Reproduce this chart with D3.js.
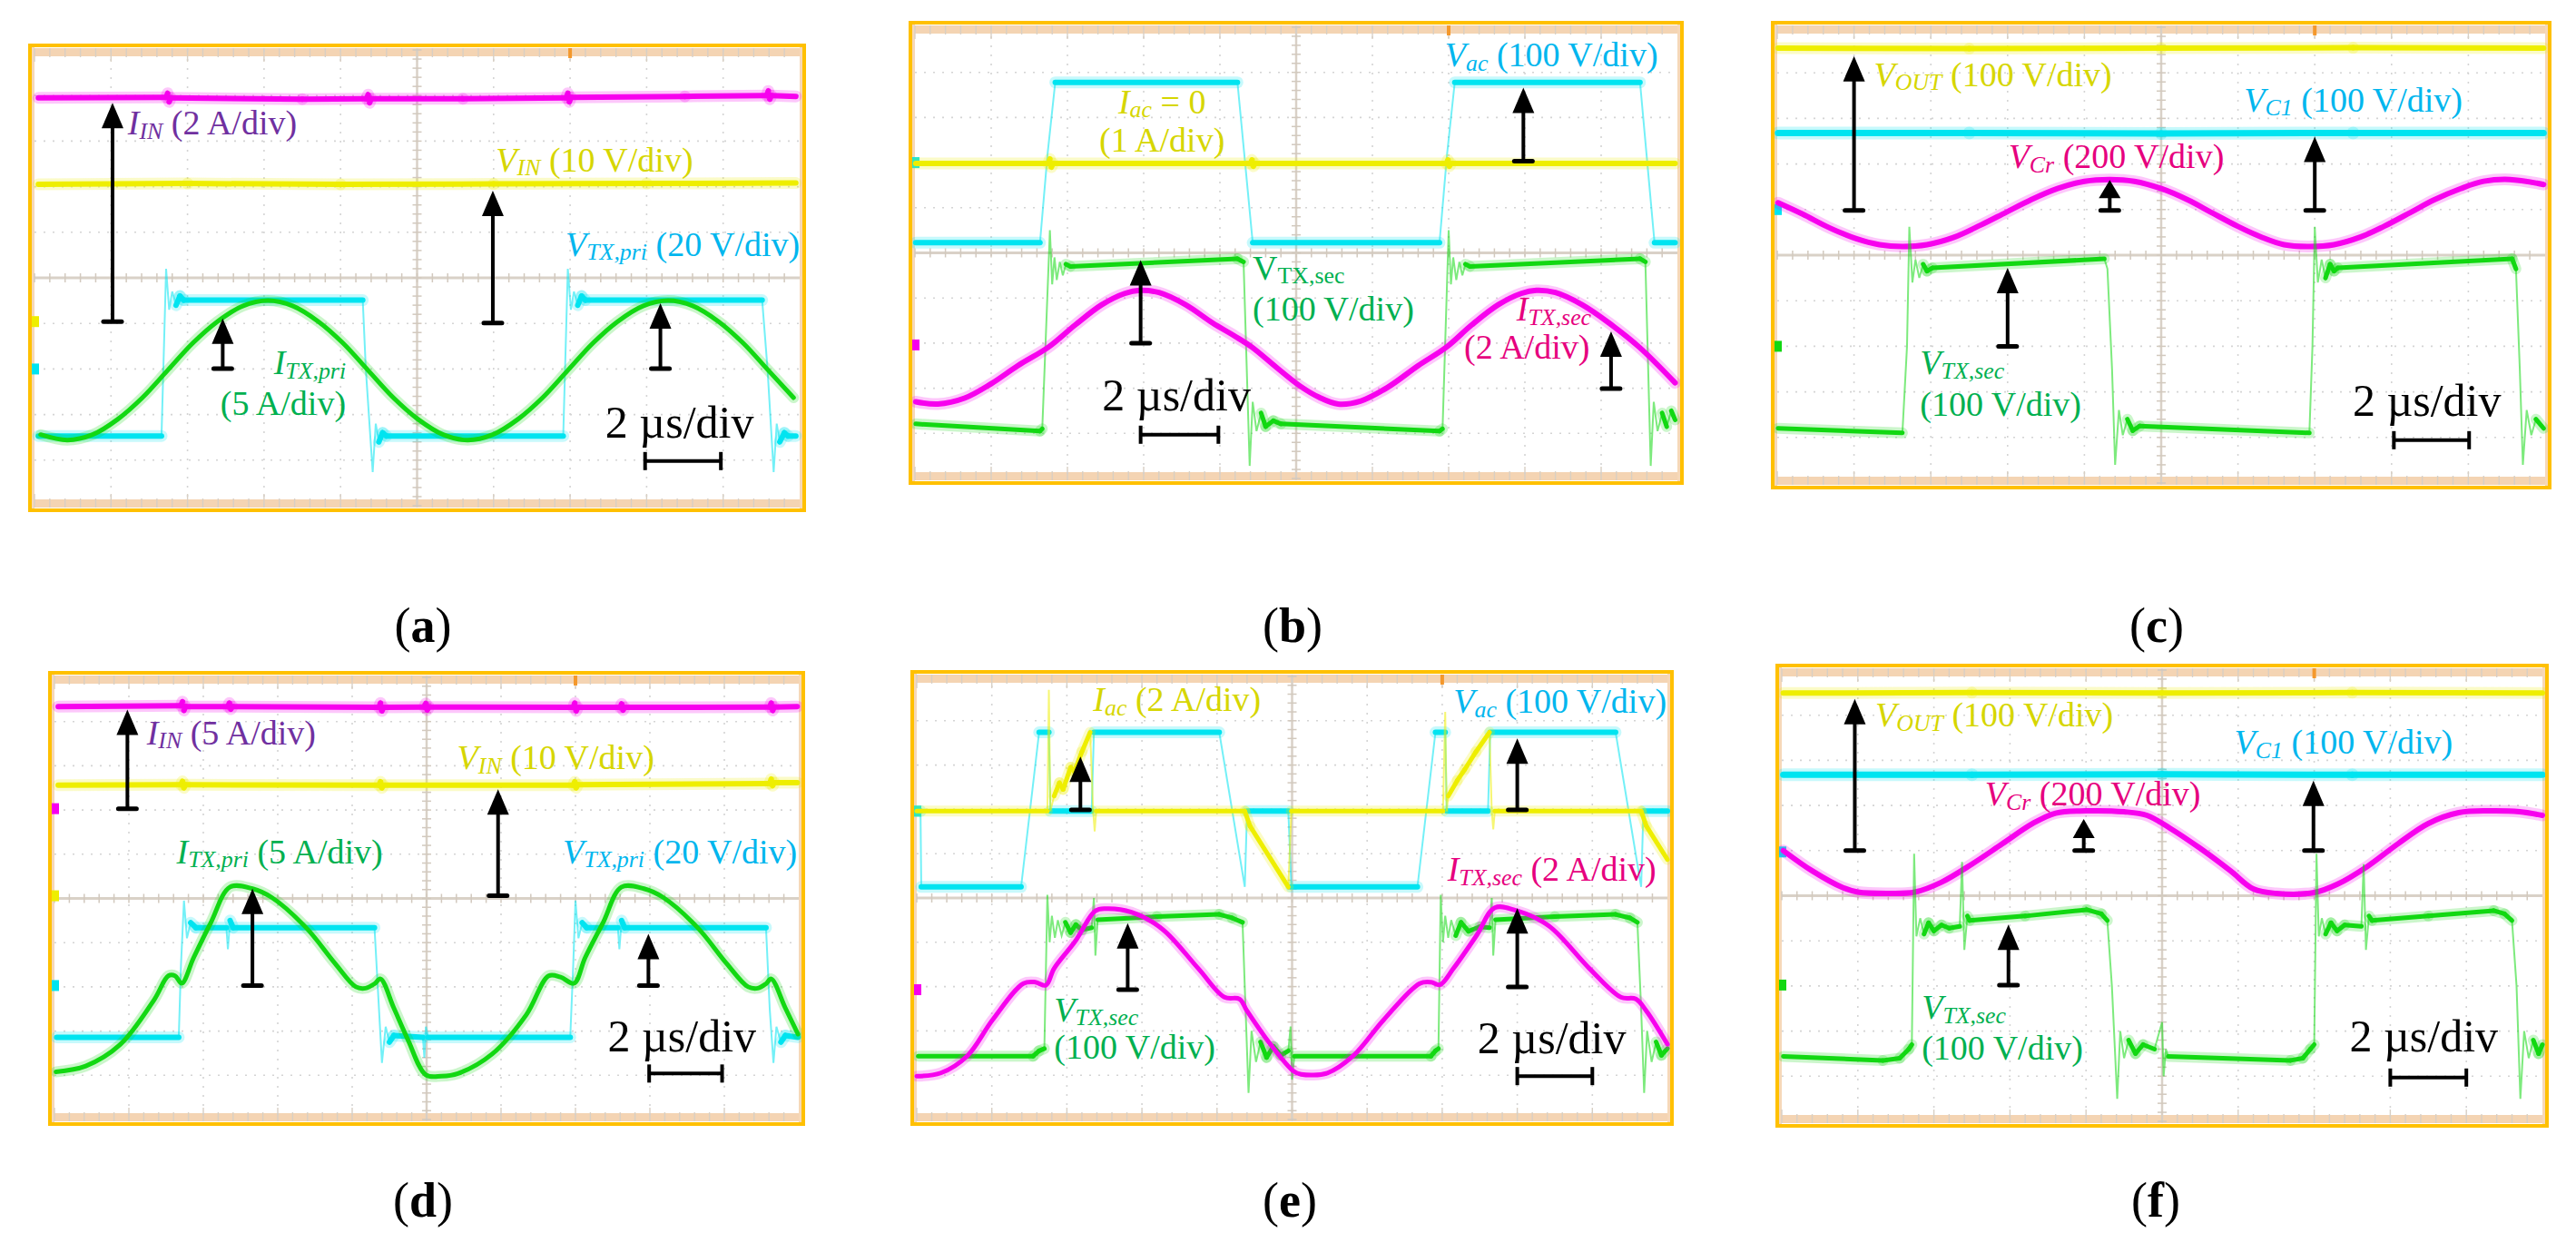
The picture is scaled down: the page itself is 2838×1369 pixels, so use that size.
<!DOCTYPE html>
<html><head><meta charset="utf-8">
<script src="https://cdn.jsdelivr.net/npm/d3@7"></script>
<style>html,body{margin:0;padding:0;background:#fff;} svg{display:block;} text{white-space:pre;}</style>
</head><body>
<svg id="fig" width="2838" height="1369"></svg>
<script>
// ================= DATA (t in divisions 0..10, v in divisions -5..5) =================
const panelLetters = ["a","b","c","d","e","f"];
const timeBase = "2 µs/div";

// ---- (a) ----
const a_IIN = [[0.05,3.95],[1.72,3.96],[1.74,4.05],[1.76,3.86],[1.78,3.95],[3.5,3.92],[4.34,3.93],[4.36,4.02],[4.38,3.84],[4.40,3.93],[5.6,3.93],[6.95,3.95],[6.97,4.05],[6.99,3.86],[7.01,3.96],[8.5,3.98],[9.57,4.0],[9.59,4.1],[9.61,3.92],[9.63,4.0],[9.95,3.98]];
const a_VIN = [[0.05,2.05],[2.0,2.07],[4.0,2.05],[6.0,2.06],[8.0,2.07],[9.95,2.08]];
const a_VTXpri = [[0.05,-3.47],[1.66,-3.47],[1.72,0.2],[1.76,-0.7],[1.8,-0.3],[1.85,-0.6],[1.9,-0.4],[1.95,-0.49],[4.29,-0.49],[4.33,-2.0],[4.42,-4.26],[4.46,-3.2],[4.5,-3.6],[4.55,-3.4],[4.6,-3.47],[6.91,-3.47],[6.97,0.2],[7.01,-0.7],[7.05,-0.3],[7.1,-0.6],[7.15,-0.4],[7.2,-0.49],[9.51,-0.49],[9.58,-2.0],[9.66,-4.26],[9.7,-3.2],[9.74,-3.6],[9.8,-3.4],[9.85,-3.47],[9.95,-3.47]];
const a_ITXpri = [[0.08,-3.44],[0.43,-3.56],[0.76,-3.44],[1.09,-3.1],[1.41,-2.63],[1.74,-2.03],[2.07,-1.43],[2.39,-0.96],[2.72,-0.62],[3.05,-0.5],[3.38,-0.62],[3.71,-0.96],[4.03,-1.43],[4.36,-2.03],[4.69,-2.63],[5.01,-3.1],[5.34,-3.44],[5.66,-3.56],[5.99,-3.44],[6.32,-3.1],[6.64,-2.63],[6.97,-2.03],[7.3,-1.43],[7.62,-0.96],[7.95,-0.62],[8.28,-0.5],[8.61,-0.62],[8.94,-0.96],[9.26,-1.43],[9.59,-2.03],[9.92,-2.63]];
const a_arrows = [[1.02,-0.96,3.84],[2.46,-1.99,-0.89],[5.99,-0.99,1.91],[8.18,-1.99,-0.56]];
const a_markers = [["y",-0.96],["c",-2.0]];

// ---- (b) ----
const b_Vac = [[0.01,0.225],[1.64,0.225],[1.74,2.2],[1.84,3.78],[4.23,3.78],[4.43,0.225],[6.88,0.225],[6.98,2.2],[7.08,3.78],[9.51,3.78],[9.70,0.225],[9.97,0.225]];
const b_Iac = [[0.01,1.98],[1.75,1.98],[1.77,2.08],[1.79,1.9],[1.81,1.98],[4.4,1.98],[4.42,2.06],[4.44,1.92],[4.46,1.98],[6.97,1.98],[6.99,2.06],[7.01,1.92],[7.03,1.98],[9.97,1.98]];
const b_VTXsec = [[0.01,-3.79],[1.64,-3.95],[1.67,-3.9],[1.77,0.5],[1.8,-0.7],[1.83,-0.1],[1.86,-0.6],[1.9,-0.2],[1.94,-0.5],[1.98,-0.25],[2.04,-0.3],[4.23,-0.13],[4.31,-0.2],[4.39,-4.72],[4.43,-3.3],[4.48,-3.95],[4.54,-3.55],[4.6,-3.85],[4.7,-3.72],[4.8,-3.79],[6.88,-3.95],[6.92,-3.9],[7.0,0.5],[7.03,-0.7],[7.06,-0.1],[7.1,-0.6],[7.14,-0.2],[7.18,-0.5],[7.22,-0.25],[7.28,-0.3],[9.51,-0.13],[9.58,-0.2],[9.65,-4.72],[9.69,-3.3],[9.74,-3.95],[9.8,-3.55],[9.86,-3.85],[9.92,-3.5],[9.97,-3.7]];
const b_ITXsec = [[0.01,-3.3],[0.3,-3.35],[0.65,-3.22],[1.0,-2.9],[1.35,-2.5],[1.75,-2.09],[2.1,-1.6],[2.45,-1.15],[2.75,-0.9],[2.95,-0.83],[3.2,-0.88],[3.55,-1.15],[3.9,-1.55],[4.2,-1.85],[4.42,-2.09],[4.75,-2.55],[5.05,-2.95],[5.3,-3.2],[5.55,-3.35],[5.85,-3.28],[6.2,-2.98],[6.6,-2.5],[6.97,-2.09],[7.3,-1.6],[7.65,-1.15],[7.95,-0.9],[8.15,-0.83],[8.4,-0.88],[8.75,-1.15],[9.1,-1.55],[9.5,-2.09],[9.97,-2.88]];
const b_arrows = [[7.98,2.03,3.66],[2.96,-2.0,-0.16],[9.13,-3.01,-1.74]];
const b_markers = [["c",2.0],["m",-2.04]];

// ---- (c) ----
const c_VOUT = [[0.01,4.54],[2.5,4.53],[5.0,4.54],[7.5,4.55],[9.98,4.54]];
const c_VC1 = [[0.01,2.68],[2.5,2.68],[5.0,2.67],[7.5,2.68],[9.98,2.68]];
const c_VCr = [[0.01,1.15],[0.33,0.9],[0.68,0.6],[1.03,0.36],[1.33,0.23],[1.63,0.19],[1.95,0.23],[2.3,0.39],[2.65,0.66],[2.98,0.94],[3.3,1.21],[3.65,1.46],[4.0,1.62],[4.33,1.66],[4.65,1.62],[5.0,1.46],[5.35,1.21],[5.65,0.94],[6.0,0.63],[6.3,0.4],[6.6,0.23],[6.93,0.19],[7.25,0.23],[7.6,0.4],[7.9,0.63],[8.25,0.94],[8.55,1.21],[8.9,1.46],[9.2,1.62],[9.54,1.66],[9.98,1.55]];
const c_VTXsec = [[0.01,-3.8],[1.63,-3.9],[1.69,-2.0],[1.72,0.62],[1.76,-0.6],[1.8,-0.1],[1.85,-0.5],[1.9,-0.2],[1.95,-0.35],[2.02,-0.28],[4.26,-0.08],[4.3,-0.3],[4.36,-2.5],[4.4,-4.6],[4.45,-3.4],[4.5,-3.95],[4.56,-3.6],[4.63,-3.85],[4.72,-3.75],[6.93,-3.9],[6.97,-2.0],[7.0,0.62],[7.04,-0.6],[7.09,-0.1],[7.14,-0.5],[7.2,-0.2],[7.25,-0.35],[7.3,-0.28],[9.57,-0.08],[9.62,-0.3],[9.67,-2.5],[9.71,-4.6],[9.76,-3.4],[9.82,-3.95],[9.88,-3.6],[9.98,-3.8]];
const c_arrows = [[1.0,0.98,4.37],[4.33,0.98,1.65],[7.0,0.98,2.6],[3.0,-2.0,-0.28]];
const c_markers = [["c",1.0],["g",-2.0]];

// ---- (d) ----
const d_IIN = [[0.05,4.34],[1.7,4.36],[1.72,4.45],[1.74,4.25],[1.76,4.34],[2.33,4.34],[2.35,4.42],[2.37,4.28],[2.39,4.34],[4.36,4.32],[4.38,4.42],[4.40,4.24],[4.42,4.32],[4.97,4.33],[4.99,4.41],[5.01,4.26],[5.03,4.33],[6.97,4.32],[6.99,4.42],[7.01,4.24],[7.03,4.32],[7.6,4.32],[7.62,4.4],[7.64,4.26],[7.66,4.32],[9.61,4.33],[9.63,4.42],[9.65,4.25],[9.67,4.33],[9.98,4.34]];
const d_VIN = [[0.05,2.56],[1.7,2.57],[1.72,2.65],[1.74,2.5],[1.76,2.57],[4.36,2.56],[4.38,2.64],[4.4,2.5],[4.42,2.56],[6.97,2.56],[6.99,2.64],[7.01,2.5],[7.03,2.57],[9.61,2.6],[9.63,2.7],[9.65,2.55],[9.67,2.62],[9.98,2.62]];
const d_VTXpri = [[0.03,-3.14],[1.67,-3.14],[1.70,-1.5],[1.74,-0.05],[1.78,-0.9],[1.83,-0.55],[1.9,-0.66],[2.31,-0.66],[2.33,-1.15],[2.36,-0.5],[2.4,-0.66],[4.30,-0.66],[4.36,-2.5],[4.40,-3.72],[4.45,-2.9],[4.5,-3.25],[4.56,-3.1],[4.95,-3.14],[4.97,-3.6],[4.99,-2.9],[5.02,-3.14],[6.93,-3.14],[6.97,-1.5],[7.0,-0.05],[7.04,-0.9],[7.09,-0.55],[7.15,-0.66],[7.57,-0.66],[7.59,-1.15],[7.62,-0.5],[7.66,-0.66],[9.56,-0.66],[9.61,-2.5],[9.66,-3.72],[9.7,-2.9],[9.76,-3.25],[9.82,-3.1],[9.99,-3.14]];
const d_ITXpri = [[0.02,-3.92],[0.42,-3.79],[0.88,-3.31],[1.34,-2.29],[1.53,-1.75],[1.62,-1.75],[1.71,-1.92],[1.87,-1.34],[2.1,-0.55],[2.36,0.26],[2.66,0.22],[2.92,0.02],[3.38,-0.66],[3.77,-1.47],[4.05,-2.0],[4.18,-2.03],[4.30,-1.93],[4.38,-1.82],[4.56,-2.48],[4.75,-3.2],[4.99,-3.99],[5.2,-4.02],[5.42,-3.96],[5.88,-3.52],[6.34,-2.63],[6.64,-1.75],[6.8,-1.78],[6.98,-1.92],[7.13,-1.34],[7.37,-0.55],[7.62,0.26],[7.92,0.22],[8.18,0.02],[8.64,-0.66],[9.03,-1.47],[9.32,-2.0],[9.45,-2.03],[9.56,-1.93],[9.63,-1.82],[9.82,-2.48],[9.99,-3.07]];
const d_arrows = [[0.98,2.03,4.27],[2.66,-1.97,0.22],[5.96,0.06,2.47],[7.98,-1.97,-0.8]];
const d_markers = [["m",2.03],["y",0.06],["c",-1.97]];

// ---- (e) ----
const e_Vac = [[0.0,1.96],[0.05,1.96],[0.06,0.25],[1.39,0.25],[1.63,3.74],[1.76,3.74],[1.78,1.96],[2.33,1.96],[2.36,3.74],[4.03,3.74],[4.37,0.25],[4.40,1.96],[4.95,1.96],[4.99,0.25],[6.67,0.25],[6.91,3.74],[7.04,3.74],[7.06,1.96],[7.61,1.96],[7.64,3.74],[9.31,3.74],[9.65,0.25],[9.68,1.96],[10.0,1.96]];
const e_Iac = [[0.0,1.96],[1.74,1.96],[1.76,4.7],[1.78,1.96],[1.83,2.3],[1.9,2.6],[1.95,2.45],[2.05,2.95],[2.1,2.85],[2.2,3.3],[2.31,3.74],[2.35,1.96],[2.37,1.5],[2.39,1.96],[4.37,1.96],[4.44,1.62],[4.95,0.25],[4.99,1.96],[7.01,1.96],[7.04,4.2],[7.06,1.96],[7.08,2.3],[7.2,2.65],[7.3,2.9],[7.45,3.3],[7.63,3.74],[7.66,1.96],[7.68,1.55],[7.7,1.96],[9.65,1.96],[9.72,1.62],[10.0,0.87]];
const e_VTXsec = [[0.02,-3.57],[1.55,-3.57],[1.63,-3.45],[1.70,-3.4],[1.74,0.07],[1.77,-1.0],[1.8,-0.4],[1.84,-0.9],[1.88,-0.5],[1.93,-0.85],[1.98,-0.55],[2.05,-0.78],[2.12,-0.6],[2.2,-0.72],[2.33,-0.67],[2.36,0.0],[2.38,-1.3],[2.41,-0.49],[3.2,-0.42],[4.03,-0.37],[4.2,-0.45],[4.34,-0.55],[4.38,-2.5],[4.42,-4.4],[4.46,-3.0],[4.52,-3.7],[4.58,-3.25],[4.66,-3.6],[4.75,-3.35],[4.85,-3.55],[4.95,-3.45],[4.98,-2.9],[5.0,-4.1],[5.03,-3.57],[6.85,-3.57],[6.91,-3.45],[6.95,-3.4],[6.98,0.07],[7.01,-1.0],[7.04,-0.4],[7.08,-0.9],[7.12,-0.5],[7.18,-0.85],[7.25,-0.55],[7.35,-0.75],[7.5,-0.65],[7.63,-0.67],[7.66,0.0],[7.68,-1.3],[7.71,-0.49],[8.5,-0.42],[9.31,-0.37],[9.5,-0.45],[9.6,-0.55],[9.65,-2.5],[9.69,-4.4],[9.73,-3.0],[9.79,-3.7],[9.85,-3.25],[9.92,-3.55],[10.0,-3.4]];
const e_ITXsec = [[0.0,-4.02],[0.32,-3.95],[0.67,-3.57],[1.01,-2.75],[1.42,-1.93],[1.58,-1.9],[1.72,-1.97],[1.83,-1.59],[2.11,-0.98],[2.38,-0.29],[2.52,-0.24],[2.86,-0.32],[3.27,-0.7],[3.75,-1.59],[4.10,-2.24],[4.30,-2.28],[4.40,-2.55],[4.71,-3.3],[5.02,-3.91],[5.12,-3.98],[5.47,-3.95],[5.81,-3.57],[6.22,-2.75],[6.70,-1.93],[6.85,-1.9],[6.97,-1.96],[7.15,-1.59],[7.46,-0.84],[7.70,-0.22],[8.0,-0.29],[8.42,-0.63],[8.96,-1.59],[9.38,-2.24],[9.58,-2.28],[9.72,-2.55],[10.0,-3.3]];
const e_arrows = [[2.18,1.99,3.19],[8.0,1.99,3.6],[2.81,-2.07,-0.57],[8.0,-2.01,-0.23]];
const e_markers = [["c",1.96],["m",-2.07]];

// ---- (f) ----
const f_VOUT = [[0.02,4.49],[2.5,4.5],[5.0,4.49],[7.5,4.5],[10.0,4.49]];
const f_VC1 = [[0.02,2.68],[2.5,2.68],[5.0,2.69],[7.5,2.68],[10.0,2.68]];
const f_VCr = [[0.02,1.0],[0.4,0.55],[0.8,0.18],[1.0,0.08],[1.4,0.05],[1.75,0.08],[2.1,0.3],[2.5,0.7],[2.9,1.15],[3.3,1.6],[3.6,1.83],[4.0,1.88],[4.5,1.86],[4.8,1.78],[5.1,1.5],[5.5,1.05],[5.9,0.55],[6.2,0.15],[6.5,0.05],[7.0,0.07],[7.3,0.25],[7.7,0.65],[8.1,1.15],[8.5,1.6],[8.9,1.84],[9.3,1.88],[9.7,1.86],[10.0,1.78]];
const f_VTXsec = [[0.02,-3.56],[1.33,-3.65],[1.55,-3.6],[1.67,-3.4],[1.71,-3.3],[1.74,0.93],[1.77,-0.9],[1.82,-0.5],[1.87,-0.85],[1.93,-0.6],[2.0,-0.78],[2.1,-0.65],[2.2,-0.72],[2.34,-0.68],[2.37,0.75],[2.4,-1.2],[2.44,-0.45],[2.47,-0.55],[3.2,-0.45],[4.01,-0.31],[4.2,-0.4],[4.28,-0.55],[4.34,-2.0],[4.41,-4.5],[4.45,-3.0],[4.5,-3.6],[4.56,-3.2],[4.65,-3.5],[4.75,-3.3],[4.9,-3.4],[5.0,-2.8],[5.02,-4.0],[5.05,-3.4],[5.08,-3.56],[6.69,-3.65],[6.85,-3.6],[6.95,-3.4],[7.0,-3.3],[7.03,0.93],[7.06,-0.9],[7.1,-0.5],[7.15,-0.85],[7.22,-0.6],[7.3,-0.78],[7.4,-0.65],[7.62,-0.68],[7.65,0.7],[7.68,-1.2],[7.72,-0.45],[7.76,-0.55],[8.5,-0.45],[9.36,-0.33],[9.5,-0.4],[9.6,-0.55],[9.66,-2.0],[9.71,-4.5],[9.76,-3.0],[9.82,-3.6],[9.88,-3.2],[9.95,-3.5],[10.0,-3.3]];
const f_arrows = [[0.96,1.0,4.36],[3.97,1.0,1.7],[6.99,1.0,2.55],[2.98,-1.98,-0.64]];
const f_markers = [["c",0.97],["g",-1.98]];

// ================= STYLE / LAYOUT =================
const TRACE = {y:"#EEEE00", c:"#00E4F0", m:"#F700EE", g:"#12D812"};
const INK = {p:"#7030A0", y:"#D6D600", c:"#00B6EE", m:"#E6007E", g:"#00B050"};
const FONT = "'Liberation Serif', 'Times New Roman', serif";
const LABEL_SIZE = 38, SCALE_SIZE = 50, LETTER_SIZE = 54;

const panels = [
 {box:{x:33,y:50,w:853,h:512}, lab:[466,707],
  traces:[{d:a_VIN,c:"y",w:6},{d:a_IIN,c:"m",w:6},{d:a_VTXpri,c:"c",w:6},{d:a_ITXpri,c:"g",w:5,smooth:true}],
  arrows:a_arrows, markers:a_markers, scale:{tt:8.43,tv:-3.5,t0:7.98,t1:8.97,v:-4.02},
  texts:[
   {t:1.22,v:3.14,c:"p",p:[["I","i"],["IN","isub"],[" (2 A/div)",""]]},
   {t:6.03,v:2.34,c:"y",p:[["V","i"],["IN","isub"],[" (10 V/div)",""]]},
   {t:6.94,v:0.48,c:"c",p:[["V","i"],["TX,pri","isub"],[" (20 V/div)",""]]},
   {t:4.07,v:-2.12,c:"g",a:"end",p:[["I","i"],["TX,pri","isub"]]},
   {t:4.07,v:-3.0,c:"g",a:"end",p:[["(5 A/div)",""]]}]},
 {box:{x:1003,y:25,w:850,h:507}, lab:[1424,707],
  traces:[{d:b_Vac,c:"c",w:6},{d:b_Iac,c:"y",w:6},{d:b_VTXsec,c:"g",w:5},{d:b_ITXsec,c:"m",w:6,smooth:true}],
  arrows:b_arrows, markers:b_markers, scale:{tt:3.43,tv:-3.49,t0:2.96,t1:3.98,v:-4.03},
  texts:[
   {t:6.95,v:4.13,c:"c",p:[["V","i"],["ac","isub"],[" (100 V/div)",""]]},
   {t:3.24,v:3.09,c:"y",a:"middle",p:[["I","i"],["ac","isub"],[" = 0",""]]},
   {t:3.24,v:2.24,c:"y",a:"middle",p:[["(1 A/div)",""]]},
   {t:4.43,v:-0.59,c:"g",p:[["V",""],["TX,sec","sub"]]},
   {t:4.43,v:-1.5,c:"g",p:[["(100 V/div)",""]]},
   {t:8.87,v:-1.5,c:"m",a:"end",p:[["I","i"],["TX,sec","isub"]]},
   {t:8.85,v:-2.34,c:"m",a:"end",p:[["(2 A/div)",""]]}]},
 {box:{x:1953,y:25,w:856,h:512}, lab:[2376,707],
  traces:[{d:c_VOUT,c:"y",w:6},{d:c_VC1,c:"c",w:7},{d:c_VCr,c:"m",w:6,smooth:true},{d:c_VTXsec,c:"g",w:5}],
  arrows:c_arrows, markers:c_markers, scale:{tt:8.46,tv:-3.53,t0:8.03,t1:9.01,v:-4.06},
  texts:[
   {t:1.26,v:3.71,c:"y",p:[["V","i"],["OUT","isub"],[" (100 V/div)",""]]},
   {t:6.08,v:3.15,c:"c",p:[["V","i"],["C1","isub"],[" (100 V/div)",""]]},
   {t:3.01,v:1.91,c:"m",p:[["V","i"],["Cr","isub"],[" (200 V/div)",""]]},
   {t:1.86,v:-2.61,c:"g",p:[["V","i"],["TX,sec","isub"]]},
   {t:1.86,v:-3.53,c:"g",p:[["(100 V/div)",""]]}]},
 {box:{x:55,y:741,w:830,h:497}, lab:[466,1340],
  traces:[{d:d_VIN,c:"y",w:6},{d:d_IIN,c:"m",w:6},{d:d_VTXpri,c:"c",w:6},{d:d_ITXpri,c:"g",w:5,smooth:true}],
  arrows:d_arrows, markers:d_markers, scale:{tt:8.43,tv:-3.45,t0:7.99,t1:8.97,v:-3.96},
  texts:[
   {t:1.24,v:3.49,c:"p",p:[["I","i"],["IN","isub"],[" (5 A/div)",""]]},
   {t:5.41,v:2.92,c:"y",p:[["V","i"],["IN","isub"],[" (10 V/div)",""]]},
   {t:1.64,v:0.8,c:"g",p:[["I","i"],["TX,pri","isub"],[" (5 A/div)",""]]},
   {t:6.83,v:0.8,c:"c",p:[["V","i"],["TX,pri","isub"],[" (20 V/div)",""]]}]},
 {box:{x:1005,y:740,w:837,h:498}, lab:[1421,1340],
  traces:[{d:e_Vac,c:"c",w:6},{d:e_Iac,c:"y",w:5},{d:e_VTXsec,c:"g",w:5},{d:e_ITXsec,c:"m",w:5,smooth:true}],
  arrows:e_arrows, markers:e_markers, scale:{tt:8.46,tv:-3.5,t0:8.0,t1:9.0,v:-4.02},
  texts:[
   {t:2.35,v:4.22,c:"y",p:[["I","i"],["ac","isub"],[" (2 A/div)",""]]},
   {t:7.15,v:4.18,c:"c",p:[["V","i"],["ac","isub"],[" (100 V/div)",""]]},
   {t:7.07,v:0.39,c:"m",p:[["I","i"],["TX,sec","isub"],[" (2 A/div)",""]]},
   {t:1.83,v:-2.78,c:"g",p:[["V","i"],["TX,sec","isub"]]},
   {t:1.83,v:-3.62,c:"g",p:[["(100 V/div)",""]]}]},
 {box:{x:1958,y:733,w:848,h:507}, lab:[2375,1340],
  traces:[{d:f_VOUT,c:"y",w:6},{d:f_VC1,c:"c",w:7},{d:f_VCr,c:"m",w:6,smooth:true},{d:f_VTXsec,c:"g",w:5}],
  arrows:f_arrows, markers:f_markers, scale:{tt:8.44,tv:-3.45,t0:8.0,t1:9.0,v:-4.03},
  texts:[
   {t:1.23,v:3.75,c:"y",p:[["V","i"],["OUT","isub"],[" (100 V/div)",""]]},
   {t:5.95,v:3.15,c:"c",p:[["V","i"],["C1","isub"],[" (100 V/div)",""]]},
   {t:2.67,v:2.0,c:"m",p:[["V","i"],["Cr","isub"],[" (200 V/div)",""]]},
   {t:1.84,v:-2.73,c:"g",p:[["V","i"],["TX,sec","isub"]]},
   {t:1.84,v:-3.63,c:"g",p:[["(100 V/div)",""]]}]}
];

// ================= DRAWING =================
const svg = d3.select("#fig");
svg.append("rect").attr("width",2838).attr("height",1369).attr("fill","#fff");

function drawFrame(g,b,xs,ys){
  g.append("rect").attr("x",b.x).attr("y",b.y).attr("width",b.w).attr("height",b.h).attr("fill","#fff");
  const band = 9;
  g.append("rect").attr("x",b.x+2).attr("y",b.y+3).attr("width",b.w-4).attr("height",band).attr("fill","#F2CDA6").attr("opacity",0.85);
  g.append("rect").attr("x",b.x+2).attr("y",b.y+b.h-3-band).attr("width",b.w-4).attr("height",band).attr("fill","#F2CDA6").attr("opacity",0.85);
  g.append("rect").attr("x",b.x+2).attr("y",b.y+2).attr("width",3).attr("height",b.h-4).attr("fill","#F6D8B8");
  g.append("rect").attr("x",b.x+b.w-5).attr("y",b.y+2).attr("width",3).attr("height",b.h-4).attr("fill","#F6D8B8");
  const gx = d3.range(1,10).filter(i=>i!==5), gy = d3.range(-4,5).filter(j=>j!==0);
  gx.forEach(i=>g.append("line").attr("x1",xs(i)).attr("x2",xs(i)).attr("y1",ys(5)).attr("y2",ys(-5))
     .attr("stroke","#D4D4D4").attr("stroke-width",1.6).attr("stroke-dasharray","2,8"));
  gy.forEach(j=>g.append("line").attr("x1",xs(0)).attr("x2",xs(10)).attr("y1",ys(j)).attr("y2",ys(j))
     .attr("stroke","#D4D4D4").attr("stroke-width",1.6).attr("stroke-dasharray","2,8"));
  g.append("line").attr("x1",xs(5)).attr("x2",xs(5)).attr("y1",ys(5)).attr("y2",ys(-5)).attr("stroke","#D9D1C7").attr("stroke-width",2.5);
  g.append("line").attr("x1",xs(0)).attr("x2",xs(10)).attr("y1",ys(0)).attr("y2",ys(0)).attr("stroke","#D9D1C7").attr("stroke-width",3);
  d3.range(0,50).map(k=>k/5).forEach(t=>{
    g.append("line").attr("x1",xs(t)).attr("x2",xs(t)).attr("y1",ys(0)-5).attr("y2",ys(0)+5).attr("stroke","#D2C9BE").attr("stroke-width",1.5);
    const L = (Math.abs(t-Math.round(t))<1e-6) ? 12 : 7;
    g.append("line").attr("x1",xs(t)).attr("x2",xs(t)).attr("y1",b.y+3).attr("y2",b.y+3+band+L-6).attr("stroke","#D8CFC4").attr("stroke-width",1.4);
    g.append("line").attr("x1",xs(t)).attr("x2",xs(t)).attr("y1",b.y+b.h-3).attr("y2",b.y+b.h-3-band-L+6).attr("stroke","#D8CFC4").attr("stroke-width",1.4);
  });
  d3.range(-25,26).map(k=>k/5).forEach(v=>{
    g.append("line").attr("x1",xs(5)-5).attr("x2",xs(5)+5).attr("y1",ys(v)).attr("y2",ys(v)).attr("stroke","#D2C9BE").attr("stroke-width",1.5);
  });
  g.append("rect").attr("x",xs(7)-2).attr("y",b.y+3).attr("width",4).attr("height",band+2).attr("fill","#F4982C");
}

function drawBorder(g,b){
  g.append("rect").attr("x",b.x).attr("y",b.y).attr("width",b.w).attr("height",b.h)
   .attr("fill","none").attr("stroke","#FFC000").attr("stroke-width",4);
}

function drawTrace(g,xs,ys,tr){
  const col = TRACE[tr.c];
  const pts = tr.d.map(d=>[xs(d[0]), ys(d[1])]);
  if (tr.smooth){
    const line = d3.line().curve(d3.curveCatmullRom.alpha(0.5));
    g.append("path").attr("d",line(pts)).attr("fill","none").attr("stroke",col).attr("stroke-opacity",0.22)
      .attr("stroke-width",tr.w+7).attr("stroke-linejoin","round").attr("stroke-linecap","round");
    g.append("path").attr("d",line(pts)).attr("fill","none").attr("stroke",col)
      .attr("stroke-width",tr.w).attr("stroke-linejoin","round").attr("stroke-linecap","round");
  } else {
    g.append("path").attr("d",d3.line()(pts)).attr("fill","none").attr("stroke",col)
      .attr("stroke-opacity",0.55).attr("stroke-width",2);
    const flat = d3.pairs(pts).filter(([p,q]) => Math.abs(q[1]-p[1]) <= 3*Math.abs(q[0]-p[0]));
    g.selectAll(null).data(flat).join("line")
      .attr("x1",d=>d[0][0]).attr("y1",d=>d[0][1]).attr("x2",d=>d[1][0]).attr("y2",d=>d[1][1])
      .attr("stroke",col).attr("stroke-opacity",0.22).attr("stroke-width",tr.w+7).attr("stroke-linecap","round");
    g.selectAll(null).data(flat).join("line")
      .attr("x1",d=>d[0][0]).attr("y1",d=>d[0][1]).attr("x2",d=>d[1][0]).attr("y2",d=>d[1][1])
      .attr("stroke",col).attr("stroke-width",tr.w).attr("stroke-linecap","round");
  }
}

function drawArrow(g,xs,ys,a){
  const x = xs(a[0]), yb = ys(a[1]), yt = ys(a[2]);
  const hh = Math.min(28,(yb-yt)*0.6), hw = 12;
  g.append("line").attr("x1",x).attr("x2",x).attr("y1",yb).attr("y2",yt+hh-2).attr("stroke","#000").attr("stroke-width",4);
  g.append("path").attr("d",`M${x},${yt}L${x-hw},${yt+hh}L${x+hw},${yt+hh}Z`).attr("fill","#000");
  g.append("line").attr("x1",x-10).attr("x2",x+10).attr("y1",yb).attr("y2",yb).attr("stroke","#000")
    .attr("stroke-width",5).attr("stroke-linecap","round");
}

function richText(g,x,y,parts,color,size,anchor){
  const t = g.append("text").attr("x",x).attr("y",y).attr("fill",color)
    .attr("font-family",FONT).attr("font-size",size).attr("text-anchor",anchor||"start");
  let down = false; const sh = size*0.12;
  parts.forEach(([s,st])=>{
    const sp = t.append("tspan").text(s);
    const sub = st.includes("sub"), it = st.startsWith("i");
    if (it) sp.attr("font-style","italic");
    if (sub){ sp.attr("font-size",size*0.68); if(!down){ sp.attr("dy",sh); down=true; } }
    else if (down){ sp.attr("dy",-sh); down=false; }
  });
}

panels.forEach((P,i)=>{
  const b = P.box;
  const g = svg.append("g");
  const xs = d3.scaleLinear().domain([0,10]).range([b.x+5,b.x+b.w-5]);
  const ys = d3.scaleLinear().domain([-5,5]).range([b.y+b.h-5,b.y+5]);
  drawFrame(g,b,xs,ys);
  P.markers.forEach(([c,v])=>g.append("rect").attr("x",xs(0)-4).attr("y",ys(v)-6).attr("width",9).attr("height",12).attr("fill",TRACE[c]));
  P.traces.forEach(tr=>drawTrace(g,xs,ys,tr));
  drawBorder(g,b);
  P.arrows.forEach(a=>drawArrow(g,xs,ys,a));
  P.texts.forEach(tx=>richText(g,xs(tx.t),ys(tx.v),tx.p,INK[tx.c],LABEL_SIZE,tx.a));
  const s = P.scale;
  g.append("text").attr("x",xs(s.tt)).attr("y",ys(s.tv)).attr("text-anchor","middle")
    .attr("font-family",FONT).attr("font-size",SCALE_SIZE).attr("fill","#000").text(timeBase);
  g.append("line").attr("x1",xs(s.t0)).attr("x2",xs(s.t1)).attr("y1",ys(s.v)).attr("y2",ys(s.v)).attr("stroke","#000").attr("stroke-width",4);
  [s.t0,s.t1].forEach(t=>g.append("line").attr("x1",xs(t)).attr("x2",xs(t)).attr("y1",ys(s.v)-10).attr("y2",ys(s.v)+10).attr("stroke","#000").attr("stroke-width",4));
  const lt = svg.append("text").attr("x",P.lab[0]).attr("y",P.lab[1]).attr("text-anchor","middle")
    .attr("font-family",FONT).attr("font-size",LETTER_SIZE).attr("fill","#000");
  lt.append("tspan").text("(");
  lt.append("tspan").attr("font-weight","bold").text(panelLetters[i]);
  lt.append("tspan").text(")");
});
</script>
</body></html>
